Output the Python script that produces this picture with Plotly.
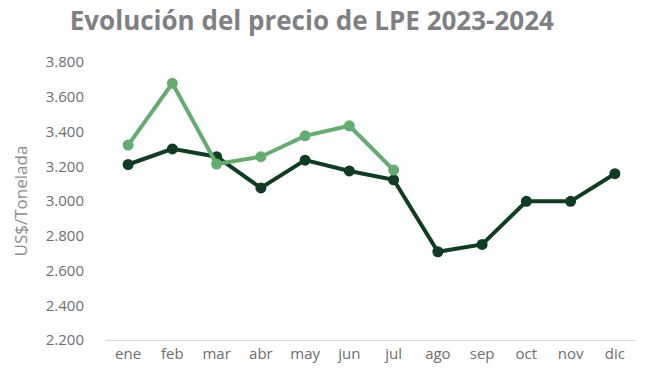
import plotly.graph_objects as go

meses = ["ene", "feb", "mar", "abr", "may", "jun", "jul", "ago", "sep", "oct", "nov", "dic"]
precio_2023 = [3210, 3300, 3255, 3075, 3235, 3173, 3122, 2708, 2750, 2998, 2998, 3157]
meses_2024 = ["ene", "feb", "mar", "abr", "may", "jun", "jul"]
precio_2024 = [3322, 3677, 3213, 3255, 3375, 3433, 3178]
y_ticks = [2200, 2400, 2600, 2800, 3000, 3200, 3400, 3600, 3800]
y_tick_labels = ["2.200", "2.400", "2.600", "2.800", "3.000", "3.200", "3.400", "3.600", "3.800"]

fig = go.Figure()
fig.add_trace(go.Scatter(x=meses, y=precio_2023, mode="lines+markers", name="2023",
                         line=dict(color="#0f3d24", width=4), marker=dict(size=11, color="#0f3d24")))
fig.add_trace(go.Scatter(x=meses_2024, y=precio_2024, mode="lines+markers", name="2024",
                         line=dict(color="#62ad6f", width=4), marker=dict(size=11, color="#62ad6f")))

fig.update_layout(
    width=647, height=379,
    margin=dict(l=106, r=10, t=62, b=39),
    paper_bgcolor="white", plot_bgcolor="white",
    showlegend=False,
    title=dict(text="<b>Evolución del precio de LPE 2023-2024</b>", x=0.482, xanchor="center",
               y=0.945, yanchor="middle",
               font=dict(family="Open Sans", size=26, color="#7f8084")),
    font=dict(family="Open Sans", color="#7f7f7f"),
)
fig.update_xaxes(categoryorder="array", categoryarray=meses, showgrid=False,
                 showline=True, linecolor="#d9d9d9", linewidth=1, ticks="",
                 tickfont=dict(size=15, color="#6e6e6e"), range=[-0.5, 11.5])
fig.update_yaxes(range=[2200, 3800], tickvals=y_ticks, ticktext=y_tick_labels, showgrid=False,
                 zeroline=False, showline=False, ticks="", ticklabelstandoff=21,
                 tickfont=dict(size=15, color="#6e6e6e"),
                 title=dict(text="US$/Tonelada", font=dict(size=17, color="#8c8c8c"), standoff=13))

fig.write_html("out.html", config={"displayModeBar": False},
               post_script="document.body.style.margin='0';")
